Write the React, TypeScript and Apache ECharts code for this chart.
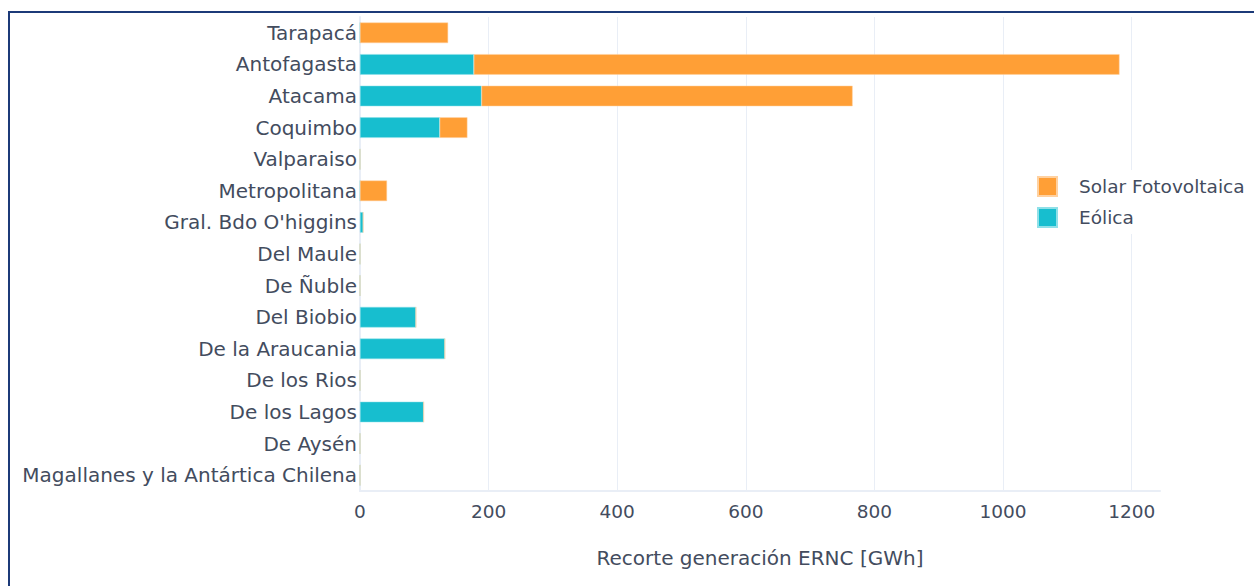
import React, { useEffect, useRef } from "react";
import * as echarts from "echarts";

const categories = [
  "Tarapacá",
  "Antofagasta",
  "Atacama",
  "Coquimbo",
  "Valparaiso",
  "Metropolitana",
  "Gral. Bdo O'higgins",
  "Del Maule",
  "De Ñuble",
  "Del Biobio",
  "De la Araucania",
  "De los Rios",
  "De los Lagos",
  "De Aysén",
  "Magallanes y la Antártica Chilena",
];

const eolica = [0, 177, 189, 124, 0, 0, 5, 0, 0, 87, 132, 0, 99, 0, 0];
const solar = [137, 1004, 577, 43, 0, 42, 0, 0, 0, 0, 0, 0, 0, 0, 0];

const xTicks = [0, 200, 400, 600, 800, 1000, 1200];
const xMax = 1244;

const TEXT = "#434c5e";
const GRID = "#e9eef6";
const FONT = "'DejaVu Sans', sans-serif";

export default function App() {
  const ref = useRef<HTMLDivElement>(null);
  useEffect(() => {
    if (!ref.current) return;
    const chart = echarts.init(ref.current, undefined, { renderer: "svg" });
    const splitColors = xTicks.map(() => GRID).concat(["rgba(0,0,0,0)"]);
    chart.setOption({
      animation: false,
      textStyle: { fontFamily: FONT },
      grid: { left: 360, right: 94, top: 17, bottom: 95, containLabel: false },
      legend: {
        orient: "vertical",
        left: 1030,
        top: 170,
        itemWidth: 19,
        itemHeight: 19,
        itemGap: 10,
        padding: [6, 6, 6, 7],
        backgroundColor: "#ffffff",
        data: ["Solar Fotovoltaica", "Eólica"],
        textStyle: { color: TEXT, fontSize: 18.5, fontFamily: FONT, padding: [0, 0, 0, 17] },
        icon: "rect",
      },
      xAxis: {
        type: "value",
        min: 0,
        max: xMax,
        interval: 200,
        name: "Recorte generación ERNC [GWh]",
        nameLocation: "middle",
        nameGap: 57,
        nameTextStyle: { color: TEXT, fontSize: 20, fontFamily: FONT },
        axisLine: { show: true, lineStyle: { color: GRID, width: 2 } },
        axisTick: { show: false },
        axisLabel: {
          color: TEXT,
          fontSize: 18.5,
          margin: 11,
          fontFamily: FONT,
          showMaxLabel: false,
          formatter: (v: number) => (xTicks.includes(v) ? String(v) : ""),
        },
        splitLine: { show: true, lineStyle: { color: splitColors, width: 1 } },
      },
      yAxis: {
        type: "category",
        inverse: true,
        data: categories,
        axisLine: { show: true, lineStyle: { color: GRID, width: 2 } },
        axisTick: { show: false },
        axisLabel: { color: TEXT, fontSize: 20, margin: 3, fontFamily: FONT },
      },
      series: [
        {
          name: "Eólica",
          type: "bar",
          stack: "total",
          data: eolica,
          barCategoryGap: "35%",
          itemStyle: { color: "#17becf", borderColor: "#8fe0e8", borderWidth: 0.5 },
        },
        {
          name: "Solar Fotovoltaica",
          type: "bar",
          stack: "total",
          data: solar,
          barCategoryGap: "35%",
          itemStyle: { color: "#ff9f36", borderColor: "#ffd1a0", borderWidth: 0.5 },
        },
      ],
      graphic: [
        {
          type: "rect",
          shape: { x: 9, y: 12, width: 1400, height: 800 },
          style: { fill: "none", stroke: "#1c3a78", lineWidth: 2 },
          silent: true,
        },
      ],
    });
    return () => chart.dispose();
  }, []);
  return (
    <div
      ref={ref}
      style={{ position: "fixed", left: 0, top: 0, width: 1254, height: 586, background: "#fff" }}
    />
  );
}
